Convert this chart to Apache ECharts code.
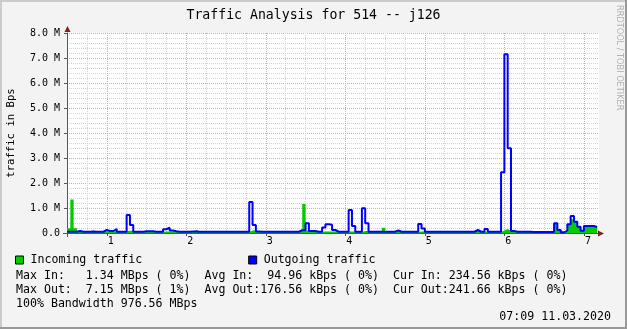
<!DOCTYPE html>
<html><head><meta charset="utf-8">
<script src="https://cdn.jsdelivr.net/npm/echarts@6/dist/echarts.min.js"></script>
<style>html,body{margin:0;padding:0;background:#f3f3f3}#c{width:627px;height:329px}</style>
</head><body><div id="c"></div>
<script>
const titleText = 'Traffic Analysis for 514 -- j126';
const yAxisName = 'traffic in Bps';
const seriesNames = ['Incoming traffic', 'Outgoing traffic'];
const xTickValues = [1, 2, 3, 4, 5, 6, 7];
const xTickLabels = ['1', '2', '3', '4', '5', '6', '7'];
const yTickLabels = ['0.0', '1.0 M', '2.0 M', '3.0 M', '4.0 M', '5.0 M', '6.0 M', '7.0 M', '8.0 M'];
const firstSampleDay = 0.5;
const samplesPerDay = 24;
// MBps, hourly samples
const incoming = [
  0.19,1.34,0.19,0.04,0.04,0.04,0.04,0.10,0.04,0.04,
  0.04,0.06,0.07,0.07,0.07,0.07,0.07,0.07,0.09,0.09,
  0.04,0.04,0.04,0.08,0.08,0.08,0.07,0.07,0.04,0.06,
  0.06,0.06,0.06,0.04,0.04,0.07,0.04,0.04,0.12,0.07,
  0.07,0.04,0.07,0.04,0.04,0.04,0.04,0.07,0.04,0.04,
  0.07,0.04,0.04,0.04,0.04,0.10,0.10,0.04,0.04,0.07,
  0.04,0.04,0.04,0.08,0.04,0.04,0.04,0.08,0.04,0.04,
  0.10,1.16,0.10,0.10,0.04,0.07,0.04,0.06,0.06,0.06,
  0.06,0.04,0.06,0.06,0.06,0.06,0.06,0.06,0.04,0.08,
  0.08,0.04,0.04,0.04,0.06,0.21,0.04,0.04,0.04,0.04,
  0.04,0.04,0.07,0.04,0.04,0.04,0.06,0.06,0.04,0.04,
  0.04,0.07,0.04,0.04,0.04,0.07,0.04,0.04,0.04,0.07,
  0.04,0.04,0.09,0.09,0.09,0.04,0.06,0.04,0.04,0.04,
  0.04,0.10,0.16,0.10,0.07,0.04,0.04,0.04,0.04,0.09,
  0.04,0.04,0.04,0.07,0.07,0.07,0.04,0.38,0.12,0.06,
  0.10,0.33,0.55,0.45,0.25,0.09,0.26,0.27,0.27,0.23
];
const outgoing = [
  0.05,0.05,0.05,0.08,0.05,0.05,0.05,0.06,0.05,0.05,
  0.05,0.12,0.08,0.08,0.16,0.05,0.05,0.05,0.72,0.32,
  0.05,0.05,0.05,0.07,0.07,0.07,0.05,0.05,0.05,0.15,
  0.21,0.10,0.07,0.05,0.05,0.05,0.05,0.06,0.06,0.05,
  0.05,0.05,0.05,0.05,0.05,0.05,0.05,0.05,0.05,0.05,
  0.05,0.05,0.05,0.05,0.05,1.24,0.32,0.06,0.05,0.05,
  0.05,0.05,0.05,0.05,0.05,0.05,0.05,0.05,0.05,0.05,
  0.11,0.11,0.39,0.08,0.08,0.05,0.05,0.22,0.35,0.33,
  0.12,0.05,0.05,0.05,0.05,0.92,0.28,0.05,0.05,0.99,
  0.39,0.05,0.05,0.05,0.05,0.05,0.05,0.05,0.05,0.10,
  0.05,0.05,0.05,0.05,0.05,0.05,0.36,0.18,0.05,0.05,
  0.05,0.05,0.05,0.05,0.05,0.05,0.05,0.05,0.05,0.05,
  0.05,0.05,0.05,0.12,0.05,0.05,0.16,0.05,0.05,0.05,
  0.05,2.43,7.15,3.39,0.08,0.05,0.05,0.05,0.05,0.05,
  0.04,0.04,0.04,0.04,0.04,0.04,0.04,0.39,0.12,0.02,
  0.10,0.35,0.68,0.45,0.25,0.09,0.28,0.28,0.28,0.24
];
const statLines = [
  'Max In:   1.34 MBps ( 0%)  Avg In:  94.96 kBps ( 0%)  Cur In: 234.56 kBps ( 0%)',
  'Max Out:  7.15 MBps ( 1%)  Avg Out:176.56 kBps ( 0%)  Cur Out:241.66 kBps ( 0%)',
  '100% Bandwidth 976.56 MBps'
];
const dateText = '07:09 11.03.2020';
const watermark = 'RRDTOOL / TOBI OETIKER';

const MONO = 'DejaVu Sans Mono';
const MINOR = '#d2d2d2';
const MAJOR = '#eaa3a3';
const AXIS = '#555555';

function toSteps(vals) {
  const pts = vals.map((v, i) => [firstSampleDay + i / samplesPerDay, v]);
  pts.push([firstSampleDay + vals.length / samplesPerDay, vals[vals.length - 1]]);
  return pts;
}
const quarterValues = [];
for (let q = 3; q <= 28; q++) { if (q % 4 !== 0) quarterValues.push(q / 4); }

const chart = echarts.init(document.getElementById('c'), null, {renderer: 'canvas'});
const graphics = [
  {type:'rect', shape:{x:0,y:0,width:627,height:2}, style:{fill:'#cbcbcb'}, silent:true},
  {type:'rect', shape:{x:0,y:0,width:2,height:329}, style:{fill:'#cbcbcb'}, silent:true},
  {type:'rect', shape:{x:625,y:0,width:2,height:329}, style:{fill:'#999999'}, silent:true},
  {type:'rect', shape:{x:0,y:327,width:627,height:2}, style:{fill:'#999999'}, silent:true},
  {type:'line', shape:{x1:63,y1:233.5,x2:67,y2:233.5}, style:{stroke:AXIS,lineWidth:1}, silent:true, z:10},
  {type:'line', shape:{x1:67.5,y1:233,x2:67.5,y2:237}, style:{stroke:AXIS,lineWidth:1}, silent:true, z:10},
  {type:'polygon', shape:{points:[[64.5,32],[70.5,32],[67.5,26]]}, style:{fill:'#7f1f1f'}, silent:true, z:10},
  {type:'polygon', shape:{points:[[598,230.5],[598,236.5],[604,233.5]]}, style:{fill:'#7f1f1f'}, silent:true, z:10},
  {type:'text', x:619, y:5, rotation:-Math.PI/2, style:{text:watermark, fontFamily:'DejaVu Sans', fontSize:8.2, fill:'#b0b0b0', align:'left', verticalAlign:'middle'}, silent:true}
];
statLines.forEach((t, i) => {
  graphics.push({type:'text', x:16, y:276 + i * 14, style:{text:t, fontFamily:MONO, fontSize:11.6, fill:'#000', align:'left', verticalAlign:'middle'}, silent:true});
});
graphics.push({type:'text', x:611, y:317, style:{text:dateText, fontFamily:MONO, fontSize:11.6, fill:'#000', align:'right', verticalAlign:'middle'}, silent:true});

chart.setOption({
  animation: false,
  backgroundColor: '#f3f3f3',
  title: {text: titleText, left: 'center', top: 4, textStyle: {fontFamily: MONO, fontSize: 13.2, fontWeight: 'normal', color: '#000'}},
  legend: {
    left: 15, top: 254, padding: 0, orient: 'horizontal', itemWidth: 8, itemHeight: 8, itemGap: 106,
    selectedMode: false, icon: 'rect',
    itemStyle: {borderColor: '#000', borderWidth: 1},
    textStyle: {fontFamily: MONO, fontSize: 11.6, color: '#000', padding: [0,0,0,2]},
    data: seriesNames
  },
  grid: {left: 67, top: 33, width: 532, height: 200, show: true, backgroundColor: '#ffffff', borderWidth: 0,
         containLabel: false, outerBoundsMode: 'none'},
  xAxis: [
    {type:'value', min:0.5, max:7.19, position:'bottom',
     axisLine:{show:false}, axisTick:{show:false, customValues: quarterValues}, axisLabel:{show:false},
     splitLine:{show:true, lineStyle:{color:MINOR, type:'dotted', width:1}}},
    {type:'value', min:0.5, max:7.19, position:'bottom',
     axisLine:{show:true, onZero:false, lineStyle:{color:AXIS, width:1}},
     axisTick:{show:true, length:3, customValues: xTickValues, lineStyle:{color:AXIS}},
     axisLabel:{customValues: xTickValues, margin:3, fontFamily:MONO, fontSize:10, color:'#000', padding:[0,0,0,8],
       formatter: v => xTickLabels[xTickValues.indexOf(v)]},
     splitLine:{show:true, lineStyle:{color:MAJOR, type:'dotted', width:1}}}
  ],
  yAxis: {
    type:'value', min:0, max:8, interval:1,
    name: yAxisName, nameLocation:'middle', nameGap:50,
    nameTextStyle:{fontFamily:MONO, fontSize:10.6, color:'#000'},
    axisLine:{show:true, onZero:false, lineStyle:{color:AXIS, width:1}},
    axisTick:{show:true, length:3, lineStyle:{color:AXIS}},
    axisLabel:{margin:7, fontFamily:MONO, fontSize:10, color:'#000', formatter: v => yTickLabels[Math.round(v)]},
    splitLine:{show:true, lineStyle:{color:MAJOR, type:'dotted', width:1}},
    minorTick:{show:false, splitNumber:5},
    minorSplitLine:{show:true, lineStyle:{color:MINOR, type:'dotted', width:1}}
  },
  graphic: graphics,
  series: [
    {name: seriesNames[0], type:'line', xAxisIndex:1, step:'end', symbol:'none', showSymbol:false,
     data: toSteps(incoming), color:'#00cc00', lineStyle:{width:0}, areaStyle:{color:'#00cc00', opacity:1}, z:2, silent:true},
    {name: seriesNames[1], type:'line', xAxisIndex:1, step:'end', symbol:'none', showSymbol:false,
     data: toSteps(outgoing), color:'#0000ff', lineStyle:{width:2, color:'#0000ff'}, z:3, silent:true}
  ]
});
</script></body></html>
